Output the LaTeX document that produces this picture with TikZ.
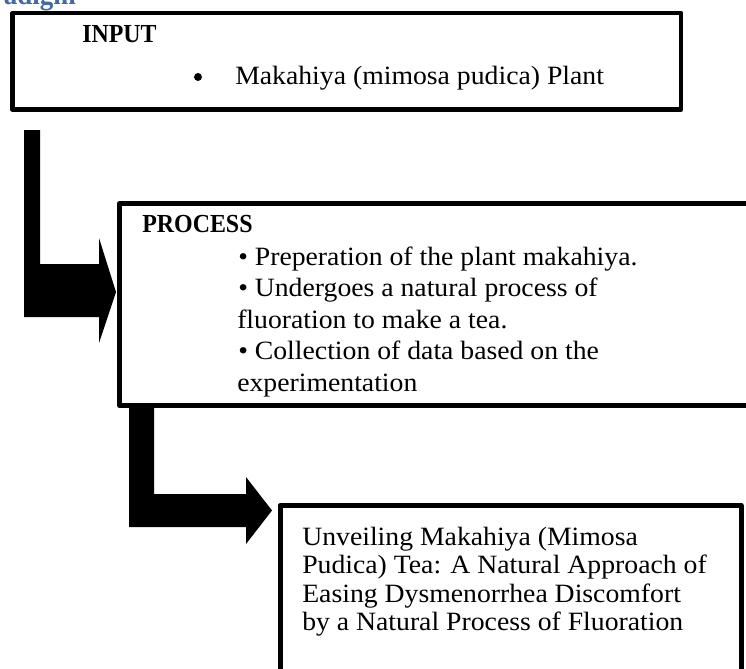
\documentclass[tikz,border=0pt]{standalone}
\usepackage{fontspec}
\setmainfont{Liberation Serif}[FakeStretch=1.05]
\newfontfamily\headfont{Liberation Serif}[FakeStretch=0.92]
\usetikzlibrary{calc}
\definecolor{headblue}{RGB}{65,105,165}
\begin{document}
\begin{tikzpicture}[x=0.75pt, y=-0.75pt,
  box/.style={draw=black, line width=3.6pt, line join=round, inner sep=0pt, outer sep=0pt, anchor=north west},
  txt/.style={inner sep=0pt, anchor=base west, font=\fontsize{19.8pt}{23pt}\selectfont},
  hd/.style={inner sep=0pt, anchor=base west, font=\headfont\bfseries\fontsize{19.5pt}{23pt}\selectfont},
  blockarrow/.style={fill=black, draw=none}]
\useasboundingbox (0,0) rectangle (746,668);
\clip (0,0) rectangle (746,668);
\fill[white] (0,0) rectangle (746,668);

% cut-off heading
\node[anchor=base east, inner sep=0pt, text=headblue, font=\headfont\bfseries\fontsize{22pt}{26pt}\selectfont] (head) at (76,4) {Paradigm};

% boxes
\node[box, minimum width=501.4pt, minimum height=72.4pt] (input) at (12.5,13) {};
\node[box, line width=3.75pt, minimum width=480pt, minimum height=151.5pt] (process) at (119.5,203.5) {};
\node[box, line width=3.75pt, minimum width=345.75pt, minimum height=150pt] (output) at (280,505.5) {};

% block arrow 1 (input -> process)
\coordinate (a1start) at (24,130);
\coordinate (a1tip) at (116,292);
\fill[blockarrow] (a1start) -- (40,130) -- (40,264) -- (99,264) -- (99,238) -- (a1tip)
  -- (99,343) -- (99,317) -- (24,317) -- cycle;

% block arrow 2 (process -> output)
\coordinate (a2start) at (129,407);
\coordinate (a2tip) at (272,510.5);
\fill[blockarrow] (a2start) -- (154,407) -- (154,494) -- (246,494) -- (246,477) -- (a2tip)
  -- (246,544) -- (246,527) -- (129,527) -- cycle;

% input text
\node[hd] (inputtitle) at (82,42) {INPUT};
\node[circle, fill=black, inner sep=0pt, minimum size=6pt] (inbullet) at (198,77) {};
\node[txt] (inputitem) at (235,84) {Makahiya (mimosa pudica) Plant};

% process text
\node[hd] (processtitle) at (142,232) {PROCESS};
\node[txt] (p1) at (238,265) {• Preperation of the plant makahiya.};
\node[txt] (p2) at (238,296.5) {• Undergoes a natural process of};
\node[txt] (p3) at (237,328) {fluoration to make a tea.};
\node[txt] (p4) at (238,359.5) {• Collection of data based on the};
\node[txt] (p5) at (237,391) {experimentation};

% output text
\node[txt] (o1) at (302,545) {Unveiling Makahiya (Mimosa};
\node[txt] (o2) at (302,573.5) {Pudica) Tea: A Natural Approach of};
\node[txt] (o3) at (302,602) {Easing Dysmenorrhea Discomfort};
\node[txt] (o4) at (302,630.5) {by a Natural Process of Fluoration};
\end{tikzpicture}
\end{document}
